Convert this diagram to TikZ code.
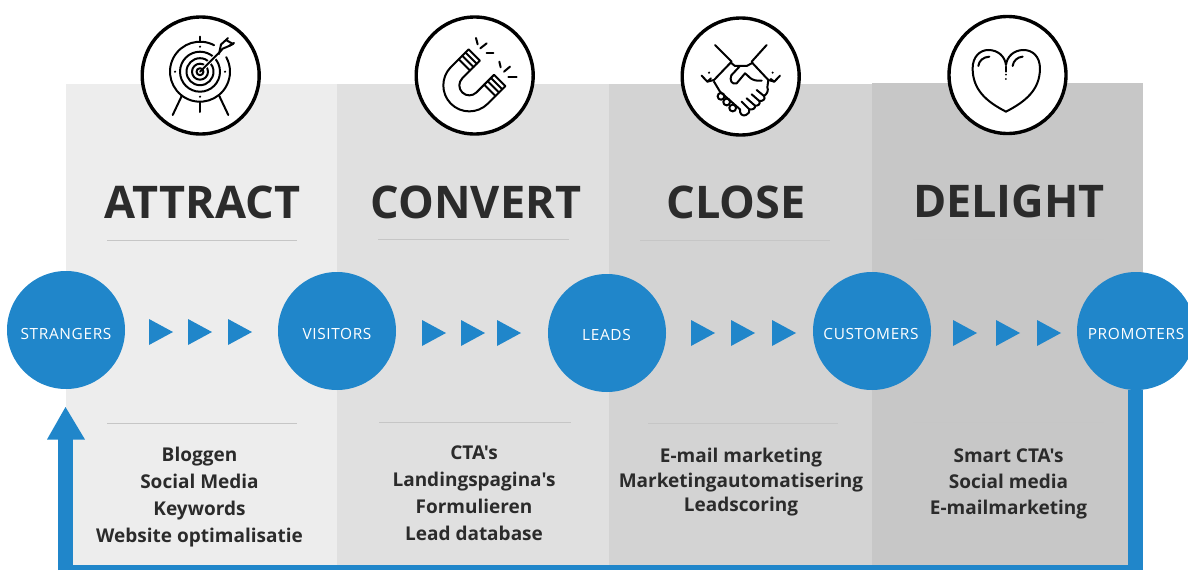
\documentclass[tikz,border=0pt]{standalone}
\usepackage{fontspec}
\setmainfont{Open Sans}
\newfontfamily\hubfont[LetterSpace=4.2]{Open Sans}
\newfontfamily\lstfont{Open Sans}
\definecolor{bl}{HTML}{2086CA}
\definecolor{ink}{HTML}{2B2B2B}
\definecolor{rulec}{HTML}{C6C6C6}
\definecolor{pa}{HTML}{EDEDED}
\definecolor{pb}{HTML}{E0E0E0}
\definecolor{pc}{HTML}{D3D3D3}
\definecolor{pd}{HTML}{C7C7C7}
\tikzset{
 hub/.style={circle,fill=bl,minimum size=118pt,inner sep=0pt},
 hubtext/.style={text=white,font=\hubfont\fontsize{15.4}{15}\selectfont,inner sep=0pt,anchor=center},
 ttl/.style={font=\bfseries\fontsize{45}{45}\selectfont,text=ink,inner sep=0pt,anchor=base},
 lst/.style={font=\lstfont\bfseries\fontsize{19}{26.9}\selectfont,text=ink,align=center,inner sep=0pt,anchor=north},
 icn/.style={circle,draw=black,line width=3.4pt,fill=white,minimum size=117pt,inner sep=0pt},
 gl/.style={draw=black,line width=2pt,line cap=round,line join=round},
 zoomed/.style={x=0.3333pt,y=-0.3333pt},
 rl/.style={draw=rulec,line width=1pt}}
\newcommand{\tris}[4]{\foreach \X in {#2,#3,#4}{\fill[bl] (\X,#1-13) -- (\X+24,#1) -- (\X,#1+13) -- cycle;}}
\begin{document}
\begin{tikzpicture}[x=1pt,y=-1pt]
\clip (0,0) rectangle (1188,570);
\fill[white] (0,0) rectangle (1188,570);
% panels
\fill[pa] (66,84) rectangle (337,570);
\fill[pb] (337,84) rectangle (609,570);
\fill[pc] (609,84) rectangle (872,570);
\fill[pd] (872,83) rectangle (1143,570);
% hubs
\node[hub] (str) at (66,330) {};
\node[hub] (vis) at (337,331) {};
\node[hub] (lea) at (607,333) {};
\node[hub] (cus) at (872,331) {};
\node[hub] (pro) at (1136,331) {};
\node[hubtext] (strt) at (66,334) {STRANGERS};
\node[hubtext] (vist) at (337,333.5) {VISITORS};
\node[hubtext] (leat) at (606.5,335) {LEADS};
\node[hubtext] (cust) at (871,333.5) {CUSTOMERS};
\node[hubtext] (prot) at (1136,333.5) {PROMOTERS};
% feedback connector
\coordinate (botR) at (1135.5,570);
\coordinate (botL) at (65.5,570);
\coordinate (tip) at (65.5,407);
\draw[bl,line width=15pt] ([xshift=-.5pt]pro.south) -- (botR);
\draw[bl,line width=15pt] (botL) -- (65.5,439);
\fill[bl] (58,565) rectangle (1143,570);
\fill[bl] (tip) -- (85,439.5) -- (47,439.5) -- cycle;
% small arrows
\tris{332}{149}{188}{228}
\tris{333}{422}{461}{497}
\tris{333}{691}{731}{772}
\tris{333}{953}{996}{1037}
% titles and rules
\node[ttl] (t1) at (202.5,218) {ATTRACT};
\node[ttl] (t2) at (476,218) {CONVERT};
\node[ttl] (t3) at (736,218) {CLOSE};
\node[ttl] (t4) at (1009,217) {DELIGHT};
\draw[rl] (107,240) -- (297,240);
\draw[rl] (378,239) -- (569,239);
\draw[rl] (640,240) -- (830,240);
\draw[rl] (913,239) -- (1104,239);
\draw[rl] (107,423) -- (297,423);
\draw[rl] (379,422) -- (571,422);
\draw[rl] (648,423) -- (838,423);
\draw[rl] (913,422) -- (1104,422);
% lists
\node[lst] (l1) at (199.5,447) {Bloggen\\Social Media\\Keywords\\Website optimalisatie};
\node[lst] (l2) at (474,446) {CTA's\\Landingspagina's\\Formulieren\\Lead database};
\node[lst,font=\lstfont\bfseries\fontsize{19}{24.4}\selectfont] (l3) at (741,448) {E-mail marketing\\Marketingautomatisering\\Leadscoring};
\node[lst,font=\lstfont\bfseries\fontsize{19}{25.8}\selectfont] (l4) at (1008.5,449) {Smart CTA's\\Social media\\E-mailmarketing};
% icon circles
\node[icn] (i1) at (200.7,75.5) {};
\node[icn] (i2) at (474.7,75.5) {};
\node[icn] (i3) at (740.7,76.5) {};
\node[icn] (i4) at (1007.5,75) {};
% target
\begin{scope}[gl]
\coordinate (tc) at (200,71.7);
\draw (tc) ++(62:30pt) arc[start angle=62,delta angle=327,radius=30pt];
\draw (tc) circle[radius=20pt];
\draw (tc) circle[radius=13.5pt];
\draw (tc) circle[radius=8pt];
\draw (tc) circle[radius=3.5pt];
\draw[white,line width=4pt,line cap=butt] (204,67.7) -- (217,54.7);
\draw (200,71.7) -- (222,49.7);
\draw (219,54) -- (221,44.5) -- (226,40) -- (228,38);
\draw (222,49) -- (229,46) -- (234,43);
\draw (226,40) -- (233,44) -- (229,46);
\draw (181.7,96) -- (172.7,115);
\draw (200,102.5) -- (200,112);
\draw (219.3,96) -- (228.3,115);
\draw (200,36.7) -- (200,40.7);
\fill (200,46.7) circle[radius=1.2pt];
\fill (175,71.7) circle[radius=1.2pt];
\fill (225,71.7) circle[radius=1.2pt];
\fill (200,96.7) circle[radius=1.2pt];
\end{scope}
% magnet
\begin{scope}[gl,shift={(487,67.7)},rotate=45]
\draw (0,-26) -- (-25,-26) arc[start angle=90,delta angle=180,radius=26pt] -- (0,26) -- (0,10) -- (-25,10) arc[start angle=270,delta angle=-180,radius=10pt] -- (0,-10) -- cycle;
\foreach \q in {-14,-9,-4.5}{
 \draw (\q,-26) -- (\q,-10);
 \draw (\q,10) -- (\q,26);}
\end{scope}
\begin{scope}[gl,shift={(405,10)},zoomed]
\draw (213,84) -- (218,103);
\draw (226,115) -- (245,100);
\draw (245,128) -- (265,128);
\draw (283,155) -- (287,172);
\draw (297,185) -- (315,170);
\draw (310,200) -- (335,200);
\end{scope}
% handshake
\begin{scope}[gl,shift={(690,30)},zoomed]
\draw (75,45) -- (125,95) -- (118,102) -- (72,150);
\draw (230,45) -- (185,95) -- (190,102) -- (235,150);
\draw (35,137) -- (52,155) -- (63,145);
\draw (52,155) -- (72,150);
\draw (270,137) -- (253,155) -- (242,147);
\draw (253,155) -- (235,150);
\fill (57,128) circle[radius=3.5];
\fill (248,128) circle[radius=3.5];
\draw (125,100) -- (135,108) -- (170,108) -- (185,100);
\draw (150,108) -- (124,136) .. controls (118,150) and (125,165) .. (140,160) -- (165,130) .. controls (175,135) and (180,155) .. (215,152);
\draw (72,155) -- (90,185) -- (150,238);
\foreach \a/\b in {93/199,110/216,128/234}{\draw (\a,\b) circle[radius=3.4pt];}
\draw (150,238) .. controls (148,252) and (158,260) .. (168,255)
  .. controls (176,252) and (180,245) .. (178,238)
  .. controls (188,240) and (197,235) .. (195,227)
  .. controls (205,228) and (212,222) .. (208,213)
  .. controls (218,214) and (228,208) .. (222,198)
  .. controls (232,192) and (236,180) .. (232,172) -- (235,150);
\draw (155,215) -- (178,238);
\draw (170,205) -- (195,227);
\draw (185,193) -- (208,213);
\draw (200,180) -- (222,198);
\end{scope}
% heart
\begin{scope}[gl,shift={(670,10)},zoomed]
\draw (1008,305) .. controls (950,275) and (908,240) .. (908,175) .. controls (908,140) and (930,120) .. (955,120) .. controls (985,120) and (1005,140) .. (1008,165) .. controls (1011,140) and (1031,120) .. (1061,120) .. controls (1088,120) and (1110,140) .. (1110,175) .. controls (1110,240) and (1066,275) .. (1008,305) -- cycle;
\draw (925,168) .. controls (927,152) and (940,141) .. (958,140);
\draw (1028,168) .. controls (1030,152) and (1043,141) .. (1058,140);
\draw (1008,170) -- (1008,185);
\fill (1008,194) circle[radius=3];
\fill (1008,207) circle[radius=3];
\end{scope}
\end{tikzpicture}
\end{document}
